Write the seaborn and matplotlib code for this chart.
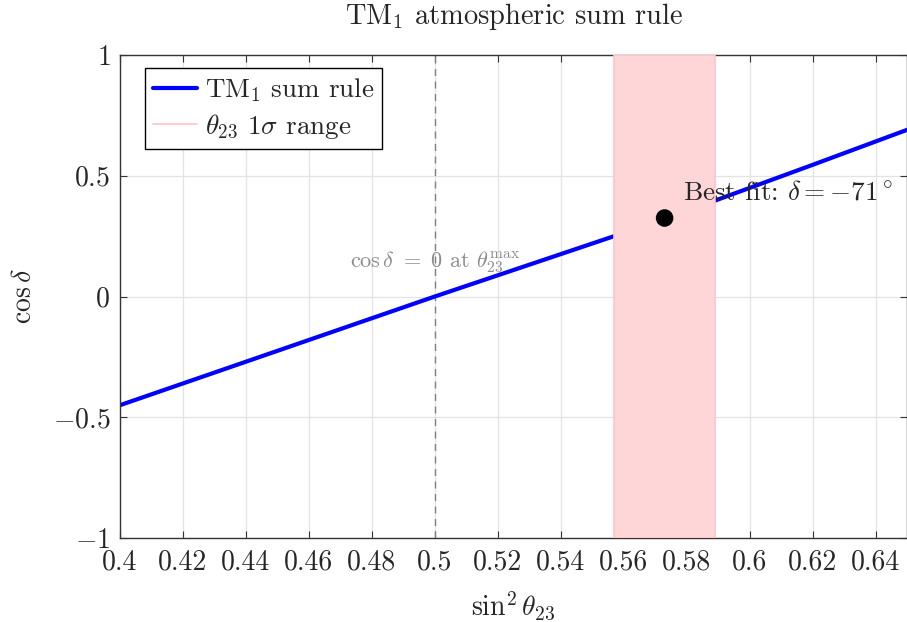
import numpy as np
import pandas as pd
import matplotlib
matplotlib.use("Agg")
import matplotlib.pyplot as plt
import seaborn as sns

# TM1 sum rule curve
s23 = [0.40, 0.45, 0.50, 0.557, 0.589, 0.62, 0.65]
cos_delta = [-0.45, -0.225, 0.0, 0.25, 0.397, 0.545, 0.69]

# theta_23 1 sigma band
band_lo = 0.557
band_hi = 0.589

# best fit point
best_x = [0.573]
best_y = [0.325]

x_ticks = [0.40, 0.42, 0.44, 0.46, 0.48, 0.50, 0.52, 0.54, 0.56, 0.58, 0.60, 0.62, 0.64]
y_ticks = [-1, -0.5, 0, 0.5, 1]

sns.set_theme(style="ticks")
plt.rcParams["font.family"] = ["cmr10", "DejaVu Sans"]
plt.rcParams["mathtext.fontset"] = "cm"
plt.rcParams["axes.formatter.use_mathtext"] = True
plt.rcParams["axes.unicode_minus"] = True

fig = plt.figure(figsize=(9.07, 6.22), dpi=100)
ax = fig.add_axes([0.1323, 0.135, 0.8677, 0.7766])

df = pd.DataFrame({"s23": s23, "cos": cos_delta})
sns.lineplot(data=df, x="s23", y="cos", color="#0000ff", lw=3, ax=ax,
             label=r"$\mathrm{TM}_1$ sum rule", zorder=2)

ax.axvspan(band_lo, band_hi, facecolor="#ffd6d8", edgecolor="#ffc4c6",
           lw=1.2, zorder=3)
ax.plot([], [], color="#ffc4c6", lw=1.2, label=r"$\theta_{23}$ $1\sigma$ range")

ax.axvline(0.5, color="#808080", ls=(0, (5, 4)), lw=1.0, zorder=1)
ax.text(0.5, 0.143, r"$\cos\delta\ =\ 0$ at $\theta_{23}^{\mathrm{max}}$",
        color="#8c8c8c", fontsize=16, ha="center", va="center", zorder=4)

sns.scatterplot(x=best_x, y=best_y, color="black", s=160, ax=ax,
                zorder=5, edgecolor="none")
ax.text(0.5787, 0.43, r"Best fit: $\delta=-71^\circ$", fontsize=19.5,
        ha="left", va="center", zorder=6)

ax.set_xlim(0.4, 0.65)
ax.set_ylim(-1, 1)
ax.set_xticks(x_ticks)
ax.set_xticklabels([f"{t:g}" for t in x_ticks])
ax.set_yticks(y_ticks)
ax.set_yticklabels([r"$-1$", r"$-0.5$", r"$0$", r"$0.5$", r"$1$"])
ax.tick_params(direction="in", length=5, width=0.8, labelsize=20,
               top=True, right=True, color="#333333")
ax.tick_params(axis="x", pad=8)
ax.tick_params(axis="y", pad=7)
ax.grid(True, color="#e3e3e3", lw=0.9)
ax.set_axisbelow(True)
for sp in ax.spines.values():
    sp.set_color("#333333")
    sp.set_linewidth(1.0)

ax.set_xlabel(r"$\sin^2\theta_{23}$", fontsize=20, labelpad=10)
ax.set_ylabel(r"$\cos\delta$", fontsize=20, labelpad=11)
ax.set_title(r"$\mathrm{TM}_1$ atmospheric sum rule", fontsize=20.5, pad=22)

leg = ax.legend(loc="upper left", fontsize=19.5, frameon=True, fancybox=False,
                edgecolor="black", framealpha=1, borderpad=0.3,
                handlelength=1.6, handletextpad=0.3, labelspacing=0.3,
                borderaxespad=0, bbox_to_anchor=(0.032, 0.973))
leg.get_frame().set_linewidth(1.0)

fig.savefig("out.png", dpi=100)
